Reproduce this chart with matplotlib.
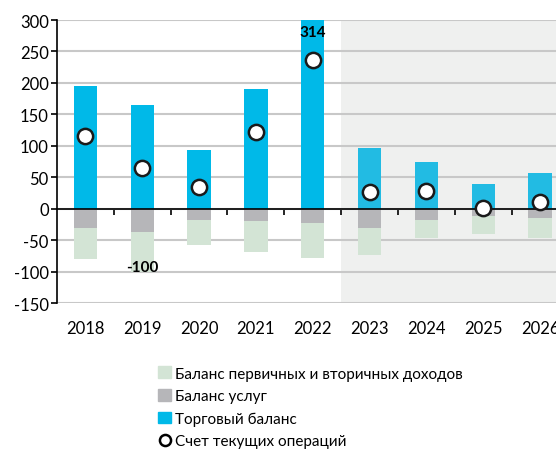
import matplotlib
matplotlib.use("Agg")
import matplotlib.pyplot as plt
import numpy as np
from matplotlib.patches import Patch
from matplotlib.lines import Line2D

# ===============================
#  DATA
# ===============================
years = ["2018", "2019", "2020", "2021", "2022", "2023", "2024", "2025", "2026"]
trade = [195, 165, 93, 190, 314, 96, 75, 40, 57]
services = [-30, -37, -17, -20, -22, -30, -17, -12, -15]
income = [-50, -63, -41, -48, -56, -43, -29, -28, -32]
current = [115, 65, 34, 122, 236, 26, 29, 1, 11]
yticks = [-150, -100, -50, 0, 50, 100, 150, 200, 250, 300]

labels = ["Баланс первичных и вторичных доходов", "Баланс услуг",
          "Торговый баланс", "Счет текущих операций"]

C_TRADE = "#00b9e8"
C_TRADE_F = "#22bbe3"
C_SERV = "#b6b6b9"
C_INC = "#d3e4d5"
C_SHADE = "#eff0ef"

plt.rcParams['font.family'] = ['Lato', 'DejaVu Sans']

fig = plt.figure(figsize=(5.56, 4.52), dpi=100)
ax = fig.add_axes([0.1025, 0.327, 0.8975, 0.6265])

x = np.arange(len(years))
w = 0.41
trade_cols = [C_TRADE if i < 5 else C_TRADE_F for i in range(len(years))]

ax.axvspan(4.5, 10, color=C_SHADE, zorder=0, lw=0)
ax.bar(x, trade, w, color=trade_cols, zorder=2)
ax.bar(x, services, w, color=C_SERV, zorder=2)
ax.bar(x, income, w, bottom=services, color=C_INC, zorder=2)
ax.plot(x, current, "o", ms=11, mfc="white", mec="#1a1a1a", mew=1.8, zorder=4)

# value labels
ax.text(4, 281, "314", ha="center", va="center", fontsize=11, fontweight="bold", zorder=5)
ax.text(1, -92, "-100", ha="center", va="center",
        fontsize=11, fontweight="bold", zorder=5)

ax.set_ylim(-150, 300)
ax.set_xlim(-0.5, 8.28)
ax.set_yticks(yticks)
ax.set_yticklabels([str(v) for v in yticks], fontsize=12)
ax.yaxis.grid(True, color="#c8c8c8", lw=1.5, zorder=1)
ax.set_axisbelow(True)

for s in ["top", "right"]:
    ax.spines[s].set_visible(False)
ax.spines["left"].set_color("black")
ax.spines["left"].set_linewidth(1.2)
ax.tick_params(axis="y", length=4, width=1.2, direction="out", pad=2)

# zero line with boundary ticks
ax.spines["bottom"].set_position(("data", 0))
ax.spines["bottom"].set_linewidth(1.2)
ax.spines["bottom"].set_zorder(3)
ax.set_xticks(x[:-1] + 0.5)
ax.set_xticklabels([])
ax.tick_params(axis="x", length=4, width=1.2, direction="out")

sec = ax.secondary_xaxis(-0.0)
sec.set_xticks(x)
sec.set_xticklabels(years, fontsize=12)
sec.tick_params(length=0, pad=12)
sec.spines["bottom"].set_visible(False)

handles = [Patch(color=C_INC), Patch(color=C_SERV), Patch(color=C_TRADE),
           Line2D([], [], ls="", marker="o", ms=8, mfc="white", mec="black", mew=1.8)]
fig.legend(handles, labels, loc="upper left", bbox_to_anchor=(0.285, 0.187),
           frameon=False, fontsize=11, handlelength=0.8, handleheight=0.8,
           handletextpad=0.3, labelspacing=0.55, borderpad=0, borderaxespad=0)

fig.savefig("out.png", dpi=100)
